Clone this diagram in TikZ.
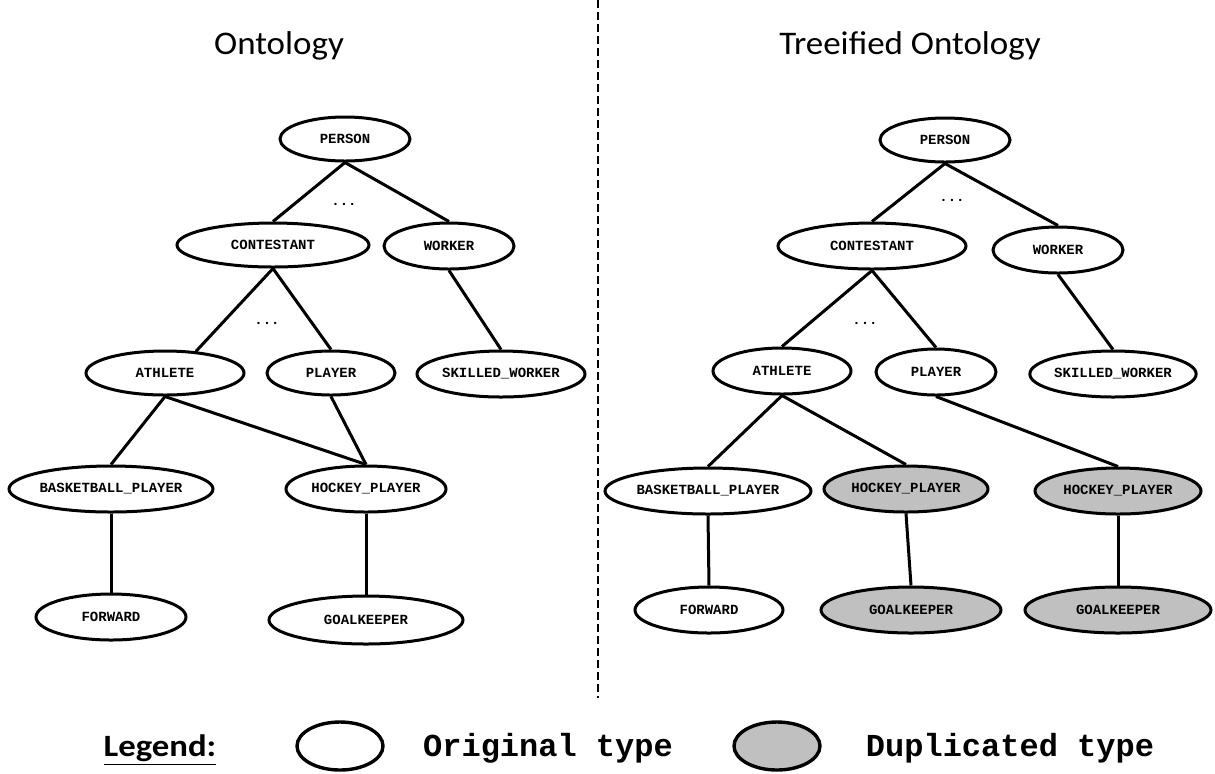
\documentclass[tikz,border=0pt]{standalone}
\usepackage{fontspec}
\usetikzlibrary{shapes.geometric}
\newfontfamily\titlefont[FakeStretch=1.06]{Carlito}
\newfontfamily\legfont[FakeStretch=1.12]{Carlito}
\newfontfamily\monofont{Liberation Mono}
\definecolor{dupgray}{RGB}{192,192,192}
\tikzset{
  ont/.style={ellipse, draw, line width=1.5pt, inner sep=0pt, fill=white,
    font=\monofont\bfseries\fontsize{7}{8}\selectfont},
  dup/.style={ont, fill=dupgray},
  dots/.style={inner sep=0pt, font=\monofont\bfseries\fontsize{7}{8}\selectfont},
  link/.style={line width=1.5pt},
  sep/.style={line width=1.3pt, dash pattern=on 4pt off 2pt},
  title/.style={anchor=base, font=\titlefont\fontsize{16.5}{18}\selectfont},
  legtext/.style={anchor=base, font=\monofont\bfseries\fontsize{16}{18}\selectfont},
  legicon/.style={ellipse, draw, line width=1.7pt, inner sep=0pt, minimum width=43pt, minimum height=24pt},
}
\begin{document}
\begin{tikzpicture}[x=0.5pt,y=-0.5pt]
\useasboundingbox (0,0) rectangle (1215,773);

% titles
\node[title] (t1) at (279,54) {Ontology};
\node[title] (t2) at (910,54) {Treeified Ontology};

% separator
\coordinate (septop) at (598,0);
\coordinate (sepbot) at (598,698);
\draw[sep] (septop) -- (sepbot);

% ---------- left: ontology ----------
\node[ont, minimum width=65pt, minimum height=22pt] (lP) at (345,139) {PERSON};
\node[ont, minimum width=96pt, minimum height=22pt] (lC) at (273,245) {CONTESTANT};
\node[ont, minimum width=65pt, minimum height=23pt] (lW) at (449,246) {WORKER};
\node[ont, minimum width=79pt, minimum height=22pt] (lA) at (165,373) {ATHLETE};
\node[ont, minimum width=64pt, minimum height=22pt] (lPL) at (331,373) {PLAYER};
\node[ont, minimum width=84pt, minimum height=23pt] (lSW) at (501,374) {SKILLED\_WORKER};
\node[ont, minimum width=102pt, minimum height=23pt] (lB) at (111,489) {BASKETBALL\_PLAYER};
\node[ont, minimum width=80pt, minimum height=23pt] (lH) at (366,489) {HOCKEY\_PLAYER};
\node[ont, minimum width=75pt, minimum height=23pt] (lF) at (111,617) {FORWARD};
\node[ont, minimum width=97pt, minimum height=24pt] (lG) at (366,620) {GOALKEEPER};
\node[dots] (ld1) at (344,204) {...};
\node[dots] (ld2) at (267,323) {...};

\draw[link] (lP.south) -- (lC.north);
\draw[link] (lP.south) -- (lW.north);
\draw[link] (lC.south) -- (lA.35);
\draw[link] (lC.south) -- (lPL.north);
\draw[link] (lW.south) -- (lSW.north);
\draw[link] (lA.south) -- (lB.north);
\draw[link] (lA.south) -- (lH.north);
\draw[link] (lPL.south) -- (lH.north);
\draw[link] (lB.south) -- (lF.north);
\draw[link] (lH.south) -- (lG.north);

% ---------- right: treeified ontology ----------
\node[ont, minimum width=65pt, minimum height=22pt] (rP) at (945,140) {PERSON};
\node[ont, minimum width=94pt, minimum height=23pt] (rC) at (872,246) {CONTESTANT};
\node[ont, minimum width=65pt, minimum height=23pt] (rW) at (1058,250) {WORKER};
\node[ont, minimum width=69pt, minimum height=23pt] (rA) at (782,371) {ATHLETE};
\node[ont, minimum width=60pt, minimum height=23pt] (rPL) at (936,372) {PLAYER};
\node[ont, minimum width=81pt, minimum height=23pt] (rSW) at (1113,374) {SKILLED\_WORKER};
\node[ont, minimum width=103pt, minimum height=23pt] (rB) at (708,491) {BASKETBALL\_PLAYER};
\node[dup, minimum width=82pt, minimum height=23pt] (rH1) at (906,489) {HOCKEY\_PLAYER};
\node[dup, minimum width=83pt, minimum height=23pt] (rH2) at (1118,491) {HOCKEY\_PLAYER};
\node[ont, minimum width=74pt, minimum height=23pt] (rF) at (709,610) {FORWARD};
\node[dup, minimum width=90pt, minimum height=23pt] (rG1) at (911,610) {GOALKEEPER};
\node[dup, minimum width=93pt, minimum height=23pt] (rG2) at (1118,610) {GOALKEEPER};
\node[dots] (rd1) at (952,200) {...};
\node[dots] (rd2) at (865,323) {...};

\draw[link] (rP.south) -- (rC.north);
\draw[link] (rP.south) -- (rW.north);
\draw[link] (rC.south) -- (rA.north);
\draw[link] (rC.south) -- (rPL.north);
\draw[link] (rW.south) -- (rSW.north);
\draw[link] (rA.south) -- (rB.north);
\draw[link] (rA.south) -- (rH1.north);
\draw[link] (rPL.south) -- (rH2.north);
\draw[link] (rB.south) -- (rF.north);
\draw[link] (rH1.south) -- (rG1.north);
\draw[link] (rH2.south) -- (rG2.north);

% ---------- legend ----------
\node[anchor=base, font=\legfont\bfseries\fontsize{15.5}{18}\selectfont] (leg) at (160,756) {\underline{Legend:}};
\node[legicon, fill=white] (legorig) at (340,746) {};
\node[legtext] (legorigt) at (548,756) {Original type};
\node[legicon, fill=dupgray] (legdup) at (777,746) {};
\node[legtext] (legdupt) at (1010,756) {Duplicated type};
\end{tikzpicture}
\end{document}
